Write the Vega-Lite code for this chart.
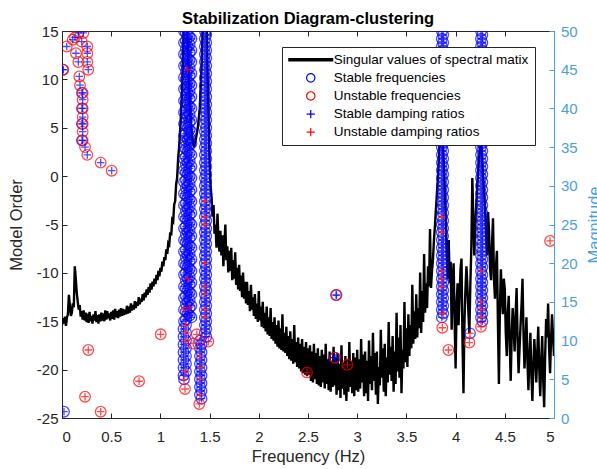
{
"$schema":"https://vega.github.io/schema/vega-lite/v6.json",
"width":492,"height":387,
"autosize":{"type":"none"},
"padding":{"left":62,"top":31,"right":43,"bottom":51},
"background":"white",
"title":{"text":"Stabilization Diagram-clustering","font":"Liberation Sans","fontSize":16.5,"fontWeight":"bold","color":"black","anchor":"middle","offset":-3},
"config":{
 "view":{"stroke":null},
 "axis":{"labelFont":"Liberation Sans","labelFontSize":15,"labelColor":"#262626","titleFont":"Liberation Sans","titleFontSize":16.5,"titleFontWeight":"normal","titleColor":"#262626","domainColor":"#262626","tickColor":"#262626","grid":false,"tickSize":-5,"labelPadding":9,"domainWidth":1,"tickWidth":1},
 "legend":{"fillColor":"white","strokeColor":"#262626","padding":6,"rowPadding":3.1,"labelFont":"Liberation Sans","labelFontSize":13.5,"labelColor":"black","symbolOffset":16,"labelOffset":16.3,"labelLimit":0}
},
"datasets":{
"spec":[{"f":0,"m":12},{"f":0.01,"m":12.9},{"f":0.02,"m":12.2},{"f":0.03,"m":13.1},{"f":0.04,"m":11.9},{"f":0.05,"m":13},{"f":0.06,"m":13.4},{"f":0.07,"m":15.9},{"f":0.08,"m":14.6},{"f":0.09,"m":13.2},{"f":0.1,"m":13.6},{"f":0.11,"m":14.8},{"f":0.12,"m":14.3},{"f":0.13,"m":19.6},{"f":0.14,"m":18},{"f":0.15,"m":16.2},{"f":0.16,"m":15},{"f":0.17,"m":14},{"f":0.18,"m":14.6},{"f":0.19,"m":13.1},{"f":0.2,"m":13.8},{"f":0.21,"m":12.7},{"f":0.22,"m":13.9},{"f":0.23,"m":12.6},{"f":0.24,"m":13.6},{"f":0.25,"m":12.4},{"f":0.26,"m":13.5},{"f":0.27,"m":12.3},{"f":0.28,"m":13.7},{"f":0.29,"m":12.5},{"f":0.3,"m":13.2},{"f":0.31,"m":12.2},{"f":0.32,"m":13.4},{"f":0.33,"m":12.6},{"f":0.34,"m":13.8},{"f":0.35,"m":12.4},{"f":0.36,"m":13.3},{"f":0.37,"m":12.2},{"f":0.38,"m":13.4},{"f":0.39,"m":12.5},{"f":0.4,"m":13.6},{"f":0.41,"m":12.6},{"f":0.42,"m":13.5},{"f":0.43,"m":12.5},{"f":0.44,"m":13.9},{"f":0.45,"m":12.7},{"f":0.46,"m":13.8},{"f":0.47,"m":12.9},{"f":0.48,"m":13.5},{"f":0.49,"m":12.6},{"f":0.5,"m":13.7},{"f":0.51,"m":12.8},{"f":0.52,"m":13.9},{"f":0.53,"m":12.7},{"f":0.54,"m":14.1},{"f":0.55,"m":13},{"f":0.56,"m":13.8},{"f":0.57,"m":12.9},{"f":0.58,"m":14},{"f":0.59,"m":13.1},{"f":0.6,"m":14.2},{"f":0.61,"m":13.2},{"f":0.62,"m":14.1},{"f":0.63,"m":13.3},{"f":0.64,"m":14},{"f":0.65,"m":13.4},{"f":0.66,"m":14.5},{"f":0.67,"m":13.5},{"f":0.68,"m":14.4},{"f":0.69,"m":13.6},{"f":0.7,"m":14.8},{"f":0.71,"m":13.9},{"f":0.72,"m":14.6},{"f":0.73,"m":14},{"f":0.74,"m":15.1},{"f":0.75,"m":14.2},{"f":0.76,"m":15},{"f":0.77,"m":14.5},{"f":0.78,"m":15.6},{"f":0.79,"m":14.7},{"f":0.8,"m":15.4},{"f":0.81,"m":15},{"f":0.82,"m":16},{"f":0.83,"m":15.2},{"f":0.84,"m":16.2},{"f":0.85,"m":15.6},{"f":0.86,"m":16.6},{"f":0.87,"m":15.9},{"f":0.88,"m":16.9},{"f":0.89,"m":16.2},{"f":0.9,"m":17.4},{"f":0.91,"m":16.6},{"f":0.92,"m":17.6},{"f":0.93,"m":17},{"f":0.94,"m":18},{"f":0.95,"m":17.3},{"f":0.96,"m":18.5},{"f":0.97,"m":17.8},{"f":0.98,"m":19},{"f":0.99,"m":18.3},{"f":1,"m":19.4},{"f":1.01,"m":18.9},{"f":1.02,"m":20.2},{"f":1.03,"m":19.6},{"f":1.04,"m":20.8},{"f":1.05,"m":20.4},{"f":1.06,"m":21.8},{"f":1.07,"m":21.2},{"f":1.08,"m":22.6},{"f":1.09,"m":22.4},{"f":1.1,"m":24},{"f":1.11,"m":23.6},{"f":1.12,"m":25.6},{"f":1.13,"m":25.4},{"f":1.14,"m":27.6},{"f":1.15,"m":28},{"f":1.16,"m":30.2},{"f":1.17,"m":31},{"f":1.18,"m":33.5},{"f":1.19,"m":35},{"f":1.2,"m":37},{"f":1.22,"m":42},{"f":1.24,"m":52},{"f":1.26,"m":55},{"f":1.28,"m":47},{"f":1.3,"m":40},{"f":1.32,"m":36.5},{"f":1.34,"m":35},{"f":1.36,"m":36},{"f":1.38,"m":37.5},{"f":1.4,"m":40},{"f":1.42,"m":46},{"f":1.44,"m":54},{"f":1.46,"m":58},{"f":1.48,"m":44},{"f":1.5,"m":33},{"f":1.51,"m":30},{"f":1.52,"m":28.5},{"f":1.53,"m":26},{"f":1.54,"m":27.5},{"f":1.55,"m":23.8},{"f":1.56,"m":25},{"f":1.57,"m":22},{"f":1.58,"m":26.4},{"f":1.59,"m":23},{"f":1.6,"m":21.5},{"f":1.61,"m":24.2},{"f":1.62,"m":21},{"f":1.63,"m":23.6},{"f":1.64,"m":19.6},{"f":1.65,"m":22.4},{"f":1.66,"m":25},{"f":1.67,"m":20.4},{"f":1.68,"m":22.2},{"f":1.69,"m":18.8},{"f":1.7,"m":21.6},{"f":1.71,"m":19},{"f":1.72,"m":22},{"f":1.73,"m":17.8},{"f":1.74,"m":20.4},{"f":1.75,"m":18},{"f":1.76,"m":21.4},{"f":1.77,"m":17.2},{"f":1.78,"m":19.4},{"f":1.79,"m":16.6},{"f":1.8,"m":19.8},{"f":1.81,"m":16.4},{"f":1.82,"m":18.4},{"f":1.83,"m":15.6},{"f":1.84,"m":18.8},{"f":1.85,"m":15.4},{"f":1.86,"m":17.6},{"f":1.87,"m":14.8},{"f":1.88,"m":17.6},{"f":1.89,"m":14.6},{"f":1.9,"m":16.4},{"f":1.91,"m":13.8},{"f":1.92,"m":17.2},{"f":1.93,"m":14},{"f":1.94,"m":15.6},{"f":1.95,"m":13.2},{"f":1.96,"m":16},{"f":1.97,"m":12.8},{"f":1.98,"m":14.8},{"f":1.99,"m":12.4},{"f":2,"m":16.4},{"f":2.01,"m":12.6},{"f":2.02,"m":14.4},{"f":2.03,"m":11.8},{"f":2.04,"m":15},{"f":2.05,"m":11.6},{"f":2.06,"m":13.6},{"f":2.07,"m":11.2},{"f":2.08,"m":14.4},{"f":2.09,"m":10.8},{"f":2.1,"m":13},{"f":2.11,"m":10.6},{"f":2.12,"m":14.2},{"f":2.13,"m":10.2},{"f":2.14,"m":12.4},{"f":2.15,"m":10},{"f":2.16,"m":13},{"f":2.17,"m":9.6},{"f":2.18,"m":12},{"f":2.19,"m":9.2},{"f":2.2,"m":12.6},{"f":2.21,"m":9},{"f":2.22,"m":11.6},{"f":2.23,"m":8.8},{"f":2.24,"m":13.4},{"f":2.25,"m":8.6},{"f":2.26,"m":11},{"f":2.27,"m":8.4},{"f":2.28,"m":11.8},{"f":2.29,"m":8},{"f":2.3,"m":10.6},{"f":2.31,"m":7.6},{"f":2.32,"m":11.2},{"f":2.33,"m":7.4},{"f":2.34,"m":10.2},{"f":2.35,"m":7},{"f":2.36,"m":12},{"f":2.37,"m":7.2},{"f":2.38,"m":9.8},{"f":2.39,"m":6.6},{"f":2.4,"m":10.4},{"f":2.41,"m":6.4},{"f":2.42,"m":9.6},{"f":2.43,"m":6},{"f":2.44,"m":10.2},{"f":2.45,"m":5.8},{"f":2.46,"m":9.2},{"f":2.47,"m":5.6},{"f":2.48,"m":9.8},{"f":2.49,"m":5.4},{"f":2.5,"m":9},{"f":2.51,"m":5.6},{"f":2.52,"m":9.4},{"f":2.53,"m":4.8},{"f":2.54,"m":8.6},{"f":2.55,"m":4.6},{"f":2.56,"m":9.6},{"f":2.57,"m":5},{"f":2.58,"m":8.4},{"f":2.59,"m":4.4},{"f":2.6,"m":9},{"f":2.61,"m":4.2},{"f":2.62,"m":8},{"f":2.63,"m":4},{"f":2.64,"m":8.8},{"f":2.65,"m":4.6},{"f":2.66,"m":8.2},{"f":2.67,"m":3.8},{"f":2.68,"m":9.6},{"f":2.69,"m":4.4},{"f":2.7,"m":7.6},{"f":2.71,"m":3.6},{"f":2.72,"m":8.6},{"f":2.73,"m":3.4},{"f":2.74,"m":7.4},{"f":2.75,"m":4},{"f":2.76,"m":9.2},{"f":2.77,"m":4.2},{"f":2.78,"m":7.8},{"f":2.79,"m":3},{"f":2.8,"m":8.4},{"f":2.81,"m":3.6},{"f":2.82,"m":7},{"f":2.83,"m":2.6},{"f":2.84,"m":9.4},{"f":2.85,"m":3.8},{"f":2.86,"m":7.2},{"f":2.87,"m":3},{"f":2.88,"m":8},{"f":2.89,"m":2.2},{"f":2.9,"m":7.6},{"f":2.91,"m":3.4},{"f":2.92,"m":9.8},{"f":2.93,"m":4},{"f":2.94,"m":7.4},{"f":2.95,"m":3.2},{"f":2.96,"m":8.4},{"f":2.97,"m":2.8},{"f":2.98,"m":7.8},{"f":2.99,"m":3.6},{"f":3,"m":8.8},{"f":3.01,"m":3.4},{"f":3.02,"m":7.6},{"f":3.03,"m":3.8},{"f":3.04,"m":10.2},{"f":3.05,"m":4.6},{"f":3.06,"m":8.2},{"f":3.07,"m":2.8},{"f":3.08,"m":8.6},{"f":3.09,"m":3.2},{"f":3.1,"m":7.4},{"f":3.11,"m":2.2},{"f":3.12,"m":10},{"f":3.13,"m":4.4},{"f":3.14,"m":8},{"f":3.15,"m":3.6},{"f":3.16,"m":11},{"f":3.17,"m":4.8},{"f":3.18,"m":8.4},{"f":3.19,"m":3},{"f":3.2,"m":8.6},{"f":3.21,"m":1.8},{"f":3.22,"m":6.6},{"f":3.23,"m":4.2},{"f":3.24,"m":11.4},{"f":3.25,"m":5.2},{"f":3.26,"m":9},{"f":3.27,"m":3.4},{"f":3.28,"m":9.6},{"f":3.29,"m":2.8},{"f":3.3,"m":7.8},{"f":3.31,"m":4.6},{"f":3.32,"m":12.4},{"f":3.33,"m":5.6},{"f":3.34,"m":9.2},{"f":3.35,"m":4.8},{"f":3.36,"m":10.6},{"f":3.37,"m":3.4},{"f":3.38,"m":8.6},{"f":3.39,"m":4.4},{"f":3.4,"m":13.6},{"f":3.41,"m":6},{"f":3.42,"m":10.4},{"f":3.43,"m":5.2},{"f":3.44,"m":12},{"f":3.45,"m":3.2},{"f":3.46,"m":8.8},{"f":3.47,"m":6.4},{"f":3.48,"m":15},{"f":3.49,"m":7.2},{"f":3.5,"m":11.6},{"f":3.51,"m":6.6},{"f":3.52,"m":13.4},{"f":3.53,"m":8},{"f":3.54,"m":12},{"f":3.55,"m":9},{"f":3.56,"m":17.2},{"f":3.57,"m":9.6},{"f":3.58,"m":13.8},{"f":3.59,"m":10.2},{"f":3.6,"m":16},{"f":3.61,"m":10.4},{"f":3.62,"m":14.2},{"f":3.63,"m":11.6},{"f":3.64,"m":18.8},{"f":3.65,"m":11},{"f":3.66,"m":16.4},{"f":3.67,"m":12.4},{"f":3.68,"m":21.2},{"f":3.69,"m":13.6},{"f":3.7,"m":17.4},{"f":3.71,"m":14.2},{"f":3.72,"m":19.6},{"f":3.73,"m":17},{"f":3.74,"m":24.4},{"f":3.75,"m":16.8},{"f":3.76,"m":19},{"f":3.77,"m":20.4},{"f":3.78,"m":23},{"f":3.79,"m":24.8},{"f":3.8,"m":27},{"f":3.82,"m":31},{"f":3.84,"m":36},{"f":3.86,"m":38},{"f":3.88,"m":33},{"f":3.9,"m":26},{"f":3.91,"m":21},{"f":3.92,"m":18},{"f":3.93,"m":23},{"f":3.94,"m":17.4},{"f":3.95,"m":20.2},{"f":3.96,"m":11.4},{"f":3.97,"m":17.6},{"f":3.98,"m":20},{"f":3.99,"m":12.6},{"f":4,"m":6.4},{"f":4.01,"m":14.6},{"f":4.02,"m":17.4},{"f":4.03,"m":12},{"f":4.04,"m":15.6},{"f":4.05,"m":19.2},{"f":4.06,"m":20.6},{"f":4.07,"m":10},{"f":4.08,"m":3.2},{"f":4.09,"m":12.4},{"f":4.1,"m":16.6},{"f":4.11,"m":19.6},{"f":4.12,"m":17},{"f":4.13,"m":13.6},{"f":4.14,"m":11},{"f":4.15,"m":17.4},{"f":4.16,"m":22},{"f":4.17,"m":31},{"f":4.18,"m":26},{"f":4.19,"m":21},{"f":4.2,"m":25},{"f":4.22,"m":30},{"f":4.24,"m":34},{"f":4.26,"m":36},{"f":4.28,"m":31},{"f":4.3,"m":27},{"f":4.31,"m":23.6},{"f":4.32,"m":21},{"f":4.33,"m":26.6},{"f":4.34,"m":24},{"f":4.35,"m":19.4},{"f":4.36,"m":17.8},{"f":4.37,"m":22.4},{"f":4.38,"m":25.8},{"f":4.39,"m":18},{"f":4.4,"m":15.4},{"f":4.41,"m":19.6},{"f":4.42,"m":21.6},{"f":4.43,"m":12.4},{"f":4.44,"m":4.4},{"f":4.45,"m":14},{"f":4.46,"m":19.2},{"f":4.47,"m":16},{"f":4.48,"m":13.4},{"f":4.49,"m":18},{"f":4.5,"m":16.6},{"f":4.51,"m":11},{"f":4.52,"m":8},{"f":4.53,"m":13.6},{"f":4.54,"m":15.8},{"f":4.55,"m":9.4},{"f":4.56,"m":4.8},{"f":4.57,"m":10.6},{"f":4.58,"m":14.2},{"f":4.59,"m":11.6},{"f":4.6,"m":8.6},{"f":4.61,"m":13.4},{"f":4.62,"m":16.8},{"f":4.63,"m":10.2},{"f":4.64,"m":5.8},{"f":4.65,"m":9},{"f":4.66,"m":12},{"f":4.67,"m":14.6},{"f":4.68,"m":18},{"f":4.69,"m":11},{"f":4.7,"m":6.4},{"f":4.71,"m":9.6},{"f":4.72,"m":13},{"f":4.73,"m":7.4},{"f":4.74,"m":3.6},{"f":4.75,"m":8},{"f":4.76,"m":11},{"f":4.77,"m":5.6},{"f":4.78,"m":2.2},{"f":4.79,"m":6.6},{"f":4.8,"m":10.2},{"f":4.81,"m":7.8},{"f":4.82,"m":4.6},{"f":4.83,"m":8.4},{"f":4.84,"m":11.8},{"f":4.85,"m":6.4},{"f":4.86,"m":2.8},{"f":4.87,"m":7.2},{"f":4.88,"m":10.6},{"f":4.89,"m":5},{"f":4.9,"m":1.4},{"f":4.91,"m":8},{"f":4.92,"m":12.8},{"f":4.93,"m":10.4},{"f":4.94,"m":14.8},{"f":4.95,"m":9},{"f":4.96,"m":5.8},{"f":4.97,"m":10.2},{"f":4.98,"m":13.4},{"f":4.99,"m":10.6},{"f":5,"m":8}],
"pts":[
{"f":0.02,"o":-24.35,"a":"os","b":"ps"},{"f":0.008,"o":11,"a":"os","b":"ps"},{"f":0.203,"o":8.6,"a":"os","b":"ps"},{"f":0.203,"o":7,"a":"os","b":"ps"},{"f":0.203,"o":5.4,"a":"os","b":"ps"},{"f":0.203,"o":3.7,"a":"os","b":"ps"},{"f":2.785,"o":-12.29,"a":"os","b":"ps"},{"f":2.77,"o":-18.77,"a":"os","b":"ps"},{"f":4.146,"o":-16.25,"a":"os","b":"pu"},
{"f":1.24,"o":15,"a":"os","b":"ps"},{"f":1.278,"o":14.6,"a":"os","b":"ps"},{"f":1.315,"o":14.2,"a":"os","b":"ps"},{"f":1.24,"o":13.8,"a":"os","b":"ps"},{"f":1.278,"o":13.4,"a":"os","b":"ps"},{"f":1.315,"o":13,"a":"os","b":"ps"},{"f":1.24,"o":12.6,"a":"os","b":"ps"},{"f":1.278,"o":12.2,"a":"os","b":"ps"},{"f":1.315,"o":11.8,"a":"os","b":"ps"},{"f":1.24,"o":11.4,"a":"os","b":"ps"},{"f":1.278,"o":11,"a":"os","b":"pu"},{"f":1.315,"o":10.6,"a":"os","b":"ps"},{"f":1.24,"o":10.2,"a":"os","b":"ps"},{"f":1.278,"o":9.8,"a":"os","b":"ps"},{"f":1.315,"o":9.4,"a":"os","b":"ps"},{"f":1.24,"o":9,"a":"os","b":"ps"},{"f":1.278,"o":8.6,"a":"os","b":"ps"},{"f":1.315,"o":8.2,"a":"os","b":"ps"},{"f":1.24,"o":7.8,"a":"os","b":"ps"},{"f":1.278,"o":7.4,"a":"os","b":"ps"},{"f":1.315,"o":7,"a":"os","b":"ps"},{"f":1.24,"o":6.6,"a":"os","b":"ps"},{"f":1.278,"o":6.2,"a":"os","b":"ps"},{"f":1.315,"o":5.8,"a":"os","b":"ps"},{"f":1.24,"o":5.4,"a":"os","b":"ps"},{"f":1.278,"o":5,"a":"os","b":"ps"},{"f":1.315,"o":4.6,"a":"os","b":"ps"},{"f":1.24,"o":4.2,"a":"os","b":"ps"},{"f":1.278,"o":3.8,"a":"os","b":"ps"},{"f":1.315,"o":3.4,"a":"os","b":"ps"},{"f":1.24,"o":3,"a":"os","b":"ps"},{"f":1.278,"o":2.6,"a":"os","b":"ps"},{"f":1.315,"o":2.2,"a":"os","b":"ps"},{"f":1.24,"o":1.8,"a":"os","b":"ps"},{"f":1.278,"o":1.4,"a":"os","b":"ps"},{"f":1.315,"o":1,"a":"os","b":"ps"},{"f":1.24,"o":0.6,"a":"os","b":"ps"},{"f":1.278,"o":0.2,"a":"os","b":"ps"},{"f":1.315,"o":-0.2,"a":"os","b":"ps"},{"f":1.24,"o":-0.6,"a":"os","b":"ps"},{"f":1.278,"o":-1,"a":"os","b":"ps"},{"f":1.315,"o":-1.4,"a":"os","b":"ps"},{"f":1.24,"o":-1.8,"a":"os","b":"ps"},{"f":1.278,"o":-2.2,"a":"os","b":"ps"},{"f":1.315,"o":-2.6,"a":"os","b":"ps"},{"f":1.24,"o":-3,"a":"os","b":"ps"},{"f":1.278,"o":-3.4,"a":"os","b":"ps"},{"f":1.315,"o":-3.8,"a":"os","b":"ps"},{"f":1.24,"o":-4.2,"a":"os","b":"ps"},{"f":1.278,"o":-4.6,"a":"os","b":"ps"},{"f":1.315,"o":-5,"a":"os","b":"ps"},{"f":1.24,"o":-5.4,"a":"os","b":"ps"},{"f":1.278,"o":-5.8,"a":"os","b":"ps"},{"f":1.315,"o":-6.2,"a":"os","b":"ps"},{"f":1.24,"o":-6.6,"a":"os","b":"ps"},{"f":1.278,"o":-7,"a":"os","b":"ps"},{"f":1.315,"o":-7.4,"a":"os","b":"ps"},{"f":1.24,"o":-7.8,"a":"os","b":"ps"},{"f":1.278,"o":-8.2,"a":"os","b":"ps"},{"f":1.315,"o":-8.6,"a":"os","b":"ps"},{"f":1.24,"o":-9,"a":"os","b":"ps"},{"f":1.278,"o":-9.4,"a":"os","b":"ps"},{"f":1.315,"o":-9.8,"a":"os","b":"ps"},{"f":1.24,"o":-10.2,"a":"os","b":"ps"},{"f":1.278,"o":-10.6,"a":"os","b":"pu"},{"f":1.315,"o":-11,"a":"os","b":"ps"},{"f":1.24,"o":-11.4,"a":"os","b":"ps"},{"f":1.278,"o":-11.8,"a":"os","b":"ps"},{"f":1.315,"o":-12.2,"a":"os","b":"ps"},{"f":1.24,"o":-12.6,"a":"os","b":"ps"},{"f":1.278,"o":-13,"a":"os","b":"ps"},{"f":1.315,"o":-13.4,"a":"os","b":"ps"},{"f":1.24,"o":-13.8,"a":"os","b":"pu"},{"f":1.278,"o":-14.2,"a":"os","b":"ps"},{"f":1.315,"o":-14.6,"a":"os","b":"ps"},{"f":1.24,"o":-15,"a":"os","b":"ps"},{"f":1.26,"o":-15.4,"a":"os","b":"pu"},{"f":1.235,"o":-15.8,"a":"os","b":"ps"},{"f":1.26,"o":-16.2,"a":"os","b":"pu"},{"f":1.235,"o":-16.6,"a":"os","b":"ps"},{"f":1.26,"o":-17,"a":"os","b":"pu"},{"f":1.235,"o":-17.4,"a":"os","b":"ps"},{"f":1.26,"o":-17.8,"a":"os","b":"ps"},{"f":1.235,"o":-18.2,"a":"os","b":"ps"},{"f":1.26,"o":-18.6,"a":"os","b":"ps"},{"f":1.235,"o":-19,"a":"os","b":"ps"},{"f":1.26,"o":-19.4,"a":"os","b":"ps"},{"f":1.235,"o":-19.8,"a":"os","b":"ps"},{"f":1.26,"o":-20.2,"a":"os","b":"pu"},{"f":1.235,"o":-20.6,"a":"os","b":"ps"},{"f":1.24,"o":-21,"a":"os","b":"pu"},
{"f":1.259,"o":14.8,"a":"os","b":"ps"},{"f":1.297,"o":14.4,"a":"os","b":"ps"},{"f":1.259,"o":14,"a":"os","b":"ps"},{"f":1.297,"o":13.6,"a":"os","b":"ps"},{"f":1.259,"o":13.2,"a":"os","b":"ps"},{"f":1.297,"o":12.8,"a":"os","b":"ps"},{"f":1.259,"o":12.4,"a":"os","b":"ps"},{"f":1.297,"o":12,"a":"os","b":"ps"},{"f":1.259,"o":11.6,"a":"os","b":"ps"},{"f":1.297,"o":11.2,"a":"os","b":"ps"},{"f":1.259,"o":10.8,"a":"os","b":"ps"},{"f":1.297,"o":10.4,"a":"os","b":"ps"},{"f":1.259,"o":10,"a":"os","b":"ps"},{"f":1.297,"o":9.6,"a":"os","b":"ps"},{"f":1.259,"o":9.2,"a":"os","b":"ps"},{"f":1.297,"o":8.8,"a":"os","b":"ps"},{"f":1.259,"o":8.4,"a":"os","b":"ps"},{"f":1.297,"o":8,"a":"os","b":"ps"},{"f":1.259,"o":7.6,"a":"os","b":"ps"},{"f":1.297,"o":7.2,"a":"os","b":"ps"},{"f":1.259,"o":6.8,"a":"os","b":"ps"},{"f":1.297,"o":6.4,"a":"os","b":"ps"},{"f":1.259,"o":6,"a":"os","b":"ps"},{"f":1.297,"o":5.6,"a":"os","b":"ps"},{"f":1.259,"o":5.2,"a":"os","b":"ps"},{"f":1.297,"o":4.8,"a":"os","b":"ps"},{"f":1.259,"o":4.4,"a":"os","b":"ps"},{"f":1.297,"o":4,"a":"os","b":"ps"},{"f":1.259,"o":3.6,"a":"os","b":"ps"},{"f":1.297,"o":3.2,"a":"os","b":"ps"},{"f":1.259,"o":2.8,"a":"os","b":"ps"},{"f":1.297,"o":2.4,"a":"os","b":"ps"},{"f":1.259,"o":2,"a":"os","b":"ps"},{"f":1.297,"o":1.6,"a":"os","b":"ps"},{"f":1.259,"o":1.2,"a":"os","b":"ps"},{"f":1.297,"o":0.8,"a":"os","b":"ps"},{"f":1.259,"o":0.4,"a":"os","b":"ps"},{"f":1.297,"o":0,"a":"os","b":"ps"},{"f":1.259,"o":-0.4,"a":"os","b":"ps"},{"f":1.297,"o":-0.8,"a":"os","b":"ps"},{"f":1.259,"o":-1.2,"a":"os","b":"ps"},{"f":1.297,"o":-1.6,"a":"os","b":"ps"},{"f":1.259,"o":-2,"a":"os","b":"ps"},{"f":1.297,"o":-2.4,"a":"os","b":"ps"},{"f":1.259,"o":-2.8,"a":"os","b":"ps"},{"f":1.297,"o":-3.2,"a":"os","b":"ps"},{"f":1.259,"o":-3.6,"a":"os","b":"ps"},{"f":1.297,"o":-4,"a":"os","b":"ps"},{"f":1.259,"o":-4.4,"a":"os","b":"ps"},{"f":1.297,"o":-4.8,"a":"os","b":"ps"},{"f":1.259,"o":-5.2,"a":"os","b":"ps"},{"f":1.297,"o":-5.6,"a":"os","b":"ps"},{"f":1.259,"o":-6,"a":"os","b":"ps"},{"f":1.297,"o":-6.4,"a":"os","b":"ps"},{"f":1.259,"o":-6.8,"a":"os","b":"ps"},{"f":1.297,"o":-7.2,"a":"os","b":"ps"},{"f":1.259,"o":-7.6,"a":"os","b":"ps"},{"f":1.297,"o":-8,"a":"os","b":"ps"},{"f":1.259,"o":-8.4,"a":"os","b":"ps"},{"f":1.297,"o":-8.8,"a":"os","b":"ps"},{"f":1.259,"o":-9.2,"a":"os","b":"ps"},{"f":1.297,"o":-9.6,"a":"os","b":"ps"},{"f":1.259,"o":-10,"a":"os","b":"ps"},{"f":1.297,"o":-10.4,"a":"os","b":"ps"},{"f":1.259,"o":-10.8,"a":"os","b":"ps"},{"f":1.297,"o":-11.2,"a":"os","b":"ps"},{"f":1.259,"o":-11.6,"a":"os","b":"ps"},{"f":1.297,"o":-12,"a":"os","b":"ps"},{"f":1.259,"o":-12.4,"a":"os","b":"ps"},{"f":1.297,"o":-12.8,"a":"os","b":"ps"},{"f":1.259,"o":-13.2,"a":"os","b":"ps"},{"f":1.297,"o":-13.6,"a":"os","b":"pu"},{"f":1.259,"o":-14,"a":"os","b":"ps"},{"f":1.297,"o":-14.4,"a":"os","b":"ps"},{"f":1.259,"o":-14.8,"a":"os","b":"ps"},
{"f":1.452,"o":15,"a":"os","b":"ps"},{"f":1.466,"o":14.6,"a":"os","b":"ps"},{"f":1.452,"o":14.2,"a":"os","b":"ps"},{"f":1.466,"o":13.8,"a":"os","b":"ps"},{"f":1.452,"o":13.4,"a":"os","b":"ps"},{"f":1.466,"o":13,"a":"os","b":"ps"},{"f":1.452,"o":12.6,"a":"os","b":"ps"},{"f":1.466,"o":12.2,"a":"os","b":"ps"},{"f":1.452,"o":11.8,"a":"os","b":"ps"},{"f":1.466,"o":11.4,"a":"os","b":"ps"},{"f":1.452,"o":11,"a":"os","b":"ps"},{"f":1.466,"o":10.6,"a":"os","b":"ps"},{"f":1.452,"o":10.2,"a":"os","b":"ps"},{"f":1.466,"o":9.8,"a":"os","b":"ps"},{"f":1.452,"o":9.4,"a":"os","b":"ps"},{"f":1.466,"o":9,"a":"os","b":"ps"},{"f":1.452,"o":8.6,"a":"os","b":"ps"},{"f":1.466,"o":8.2,"a":"os","b":"ps"},{"f":1.452,"o":7.8,"a":"os","b":"ps"},{"f":1.466,"o":7.4,"a":"os","b":"ps"},{"f":1.452,"o":7,"a":"os","b":"ps"},{"f":1.466,"o":6.6,"a":"os","b":"ps"},{"f":1.452,"o":6.2,"a":"os","b":"ps"},{"f":1.466,"o":5.8,"a":"os","b":"ps"},{"f":1.452,"o":5.4,"a":"os","b":"ps"},{"f":1.466,"o":5,"a":"os","b":"ps"},{"f":1.452,"o":4.6,"a":"os","b":"ps"},{"f":1.466,"o":4.2,"a":"os","b":"ps"},{"f":1.452,"o":3.8,"a":"os","b":"ps"},{"f":1.466,"o":3.4,"a":"os","b":"ps"},{"f":1.452,"o":3,"a":"os","b":"ps"},{"f":1.466,"o":2.6,"a":"os","b":"ps"},{"f":1.452,"o":2.2,"a":"os","b":"ps"},{"f":1.466,"o":1.8,"a":"os","b":"ps"},{"f":1.452,"o":1.4,"a":"os","b":"ps"},{"f":1.466,"o":1,"a":"os","b":"ps"},{"f":1.452,"o":0.6,"a":"os","b":"ps"},{"f":1.466,"o":0.2,"a":"os","b":"ps"},{"f":1.452,"o":-0.2,"a":"os","b":"ps"},{"f":1.466,"o":-0.6,"a":"os","b":"ps"},{"f":1.452,"o":-1,"a":"os","b":"ps"},{"f":1.466,"o":-1.4,"a":"os","b":"ps"},{"f":1.452,"o":-1.8,"a":"os","b":"ps"},{"f":1.466,"o":-2.2,"a":"os","b":"ps"},{"f":1.452,"o":-2.6,"a":"os","b":"pu"},{"f":1.466,"o":-3,"a":"os","b":"ps"},{"f":1.452,"o":-3.4,"a":"os","b":"ps"},{"f":1.466,"o":-3.8,"a":"os","b":"ps"},{"f":1.452,"o":-4.2,"a":"os","b":"pu"},{"f":1.466,"o":-4.6,"a":"os","b":"ps"},{"f":1.452,"o":-5,"a":"os","b":"pu"},{"f":1.466,"o":-5.4,"a":"os","b":"ps"},{"f":1.452,"o":-5.8,"a":"os","b":"ps"},{"f":1.466,"o":-6.2,"a":"os","b":"ps"},{"f":1.452,"o":-6.6,"a":"os","b":"ps"},{"f":1.466,"o":-7,"a":"os","b":"ps"},{"f":1.452,"o":-7.4,"a":"os","b":"ps"},{"f":1.466,"o":-7.8,"a":"os","b":"ps"},{"f":1.452,"o":-8.2,"a":"os","b":"ps"},{"f":1.466,"o":-8.6,"a":"os","b":"ps"},{"f":1.452,"o":-9,"a":"os","b":"pu"},{"f":1.466,"o":-9.4,"a":"os","b":"ps"},{"f":1.452,"o":-9.8,"a":"os","b":"ps"},{"f":1.466,"o":-10.2,"a":"os","b":"ps"},{"f":1.452,"o":-10.6,"a":"os","b":"ps"},{"f":1.466,"o":-11,"a":"os","b":"ps"},{"f":1.452,"o":-11.4,"a":"os","b":"pu"},{"f":1.466,"o":-11.8,"a":"os","b":"ps"},{"f":1.452,"o":-12.2,"a":"os","b":"pu"},{"f":1.466,"o":-12.6,"a":"os","b":"ps"},{"f":1.452,"o":-13,"a":"os","b":"ps"},{"f":1.466,"o":-13.4,"a":"os","b":"ps"},{"f":1.452,"o":-13.8,"a":"os","b":"pu"},{"f":1.466,"o":-14.2,"a":"os","b":"ps"},{"f":1.452,"o":-14.6,"a":"os","b":"pu"},{"f":1.466,"o":-15,"a":"os","b":"ps"},{"f":1.452,"o":-15.4,"a":"os","b":"ps"},{"f":1.466,"o":-15.8,"a":"os","b":"ps"},{"f":1.452,"o":-16.2,"a":"os","b":"ps"},{"f":1.466,"o":-16.6,"a":"os","b":"ps"},
{"f":1.402,"o":-17,"a":"os","b":"ps"},{"f":1.418,"o":-17.4,"a":"os","b":"ps"},{"f":1.402,"o":-17.8,"a":"os","b":"ps"},{"f":1.418,"o":-18.2,"a":"os","b":"ps"},{"f":1.402,"o":-18.6,"a":"os","b":"pu"},{"f":1.418,"o":-19,"a":"os","b":"ps"},{"f":1.402,"o":-19.4,"a":"os","b":"ps"},{"f":1.418,"o":-19.8,"a":"os","b":"pu"},{"f":1.402,"o":-20.2,"a":"os","b":"ps"},{"f":1.418,"o":-20.6,"a":"os","b":"ps"},{"f":1.402,"o":-21,"a":"os","b":"pu"},{"f":1.418,"o":-21.4,"a":"os","b":"ps"},{"f":1.402,"o":-21.8,"a":"os","b":"ps"},{"f":1.418,"o":-22.2,"a":"os","b":"ps"},{"f":1.402,"o":-22.6,"a":"os","b":"pu"},{"f":1.418,"o":-23,"a":"os","b":"ps"},
{"f":3.86,"o":15,"a":"os","b":"ps"},{"f":3.874,"o":14.6,"a":"os","b":"ps"},{"f":3.86,"o":14.2,"a":"os","b":"ps"},{"f":3.874,"o":13.8,"a":"os","b":"ps"},{"f":3.86,"o":13.4,"a":"os","b":"ps"},{"f":3.874,"o":13,"a":"os","b":"ps"},{"f":3.86,"o":12.6,"a":"os","b":"ps"},{"f":3.874,"o":12.2,"a":"os","b":"ps"},{"f":3.86,"o":11.8,"a":"os","b":"ps"},{"f":3.874,"o":11.4,"a":"os","b":"ps"},{"f":3.86,"o":11,"a":"os","b":"ps"},{"f":3.874,"o":10.6,"a":"os","b":"ps"},{"f":3.86,"o":10.2,"a":"os","b":"ps"},{"f":3.874,"o":9.8,"a":"os","b":"ps"},{"f":3.86,"o":9.4,"a":"os","b":"ps"},{"f":3.874,"o":9,"a":"os","b":"ps"},{"f":3.86,"o":8.6,"a":"os","b":"ps"},{"f":3.874,"o":8.2,"a":"os","b":"ps"},{"f":3.86,"o":7.8,"a":"os","b":"ps"},{"f":3.874,"o":7.4,"a":"os","b":"ps"},{"f":3.86,"o":7,"a":"os","b":"ps"},{"f":3.874,"o":6.6,"a":"os","b":"ps"},{"f":3.86,"o":6.2,"a":"os","b":"ps"},{"f":3.874,"o":5.8,"a":"os","b":"ps"},{"f":3.86,"o":5.4,"a":"os","b":"ps"},{"f":3.874,"o":5,"a":"os","b":"ps"},{"f":3.86,"o":4.6,"a":"os","b":"ps"},{"f":3.874,"o":4.2,"a":"os","b":"ps"},{"f":3.86,"o":3.8,"a":"os","b":"ps"},{"f":3.874,"o":3.4,"a":"os","b":"ps"},{"f":3.86,"o":3,"a":"os","b":"ps"},{"f":3.874,"o":2.6,"a":"os","b":"ps"},{"f":3.86,"o":2.2,"a":"os","b":"ps"},{"f":3.874,"o":1.8,"a":"os","b":"ps"},{"f":3.86,"o":1.4,"a":"os","b":"ps"},{"f":3.874,"o":1,"a":"os","b":"ps"},{"f":3.86,"o":0.6,"a":"os","b":"ps"},{"f":3.874,"o":0.2,"a":"os","b":"ps"},{"f":3.86,"o":-0.2,"a":"os","b":"ps"},{"f":3.874,"o":-0.6,"a":"os","b":"ps"},{"f":3.86,"o":-1,"a":"os","b":"ps"},{"f":3.874,"o":-1.4,"a":"os","b":"ps"},{"f":3.86,"o":-1.8,"a":"os","b":"ps"},{"f":3.874,"o":-2.2,"a":"os","b":"ps"},{"f":3.86,"o":-2.6,"a":"os","b":"ps"},{"f":3.874,"o":-3,"a":"os","b":"ps"},{"f":3.86,"o":-3.4,"a":"os","b":"ps"},{"f":3.874,"o":-3.8,"a":"os","b":"ps"},{"f":3.86,"o":-4.2,"a":"os","b":"pu"},{"f":3.874,"o":-4.6,"a":"os","b":"ps"},{"f":3.86,"o":-5,"a":"os","b":"ps"},{"f":3.874,"o":-5.4,"a":"os","b":"ps"},{"f":3.86,"o":-5.8,"a":"os","b":"pu"},{"f":3.874,"o":-6.2,"a":"os","b":"ps"},{"f":3.86,"o":-6.6,"a":"os","b":"ps"},{"f":3.874,"o":-7,"a":"os","b":"ps"},{"f":3.86,"o":-7.4,"a":"os","b":"ps"},{"f":3.874,"o":-7.8,"a":"os","b":"ps"},{"f":3.86,"o":-8.2,"a":"os","b":"ps"},{"f":3.874,"o":-8.6,"a":"os","b":"ps"},{"f":3.86,"o":-9,"a":"os","b":"ps"},{"f":3.874,"o":-9.4,"a":"os","b":"ps"},{"f":3.86,"o":-9.8,"a":"os","b":"pu"},{"f":3.874,"o":-10.2,"a":"os","b":"ps"},{"f":3.86,"o":-10.6,"a":"os","b":"pu"},{"f":3.874,"o":-11,"a":"os","b":"ps"},{"f":3.86,"o":-11.4,"a":"os","b":"pu"},{"f":3.874,"o":-11.8,"a":"os","b":"ps"},{"f":3.86,"o":-12.2,"a":"os","b":"ps"},{"f":3.874,"o":-12.6,"a":"os","b":"ps"},{"f":3.86,"o":-13,"a":"os","b":"ps"},{"f":3.874,"o":-13.4,"a":"os","b":"ps"},{"f":3.86,"o":-13.8,"a":"os","b":"ps"},{"f":3.874,"o":-14.2,"a":"os","b":"pu"},{"f":3.86,"o":-14.6,"a":"os","b":"ps"},
{"f":4.258,"o":15,"a":"os","b":"ps"},{"f":4.272,"o":14.6,"a":"os","b":"ps"},{"f":4.258,"o":14.2,"a":"os","b":"ps"},{"f":4.272,"o":13.8,"a":"os","b":"ps"},{"f":4.258,"o":13.4,"a":"os","b":"ps"},{"f":4.272,"o":13,"a":"os","b":"ps"},{"f":4.258,"o":12.6,"a":"os","b":"ps"},{"f":4.272,"o":12.2,"a":"os","b":"ps"},{"f":4.258,"o":11.8,"a":"os","b":"ps"},{"f":4.272,"o":11.4,"a":"os","b":"ps"},{"f":4.258,"o":11,"a":"os","b":"ps"},{"f":4.272,"o":10.6,"a":"os","b":"ps"},{"f":4.258,"o":10.2,"a":"os","b":"ps"},{"f":4.272,"o":9.8,"a":"os","b":"ps"},{"f":4.258,"o":9.4,"a":"os","b":"ps"},{"f":4.272,"o":9,"a":"os","b":"ps"},{"f":4.258,"o":8.6,"a":"os","b":"ps"},{"f":4.272,"o":8.2,"a":"os","b":"ps"},{"f":4.258,"o":7.8,"a":"os","b":"ps"},{"f":4.272,"o":7.4,"a":"os","b":"ps"},{"f":4.258,"o":7,"a":"os","b":"ps"},{"f":4.272,"o":6.6,"a":"os","b":"ps"},{"f":4.258,"o":6.2,"a":"os","b":"ps"},{"f":4.272,"o":5.8,"a":"os","b":"ps"},{"f":4.258,"o":5.4,"a":"os","b":"ps"},{"f":4.272,"o":5,"a":"os","b":"ps"},{"f":4.258,"o":4.6,"a":"os","b":"ps"},{"f":4.272,"o":4.2,"a":"os","b":"ps"},{"f":4.258,"o":3.8,"a":"os","b":"ps"},{"f":4.272,"o":3.4,"a":"os","b":"ps"},{"f":4.258,"o":3,"a":"os","b":"ps"},{"f":4.272,"o":2.6,"a":"os","b":"ps"},{"f":4.258,"o":2.2,"a":"os","b":"ps"},{"f":4.272,"o":1.8,"a":"os","b":"ps"},{"f":4.258,"o":1.4,"a":"os","b":"ps"},{"f":4.272,"o":1,"a":"os","b":"ps"},{"f":4.258,"o":0.6,"a":"os","b":"ps"},{"f":4.272,"o":0.2,"a":"os","b":"ps"},{"f":4.258,"o":-0.2,"a":"os","b":"ps"},{"f":4.272,"o":-0.6,"a":"os","b":"ps"},{"f":4.258,"o":-1,"a":"os","b":"ps"},{"f":4.272,"o":-1.4,"a":"os","b":"ps"},{"f":4.258,"o":-1.8,"a":"os","b":"ps"},{"f":4.272,"o":-2.2,"a":"os","b":"ps"},{"f":4.258,"o":-2.6,"a":"os","b":"ps"},{"f":4.272,"o":-3,"a":"os","b":"ps"},{"f":4.258,"o":-3.4,"a":"os","b":"ps"},{"f":4.272,"o":-3.8,"a":"os","b":"ps"},{"f":4.258,"o":-4.2,"a":"os","b":"ps"},{"f":4.272,"o":-4.6,"a":"os","b":"ps"},{"f":4.258,"o":-5,"a":"os","b":"ps"},{"f":4.272,"o":-5.4,"a":"os","b":"ps"},{"f":4.258,"o":-5.8,"a":"os","b":"ps"},{"f":4.272,"o":-6.2,"a":"os","b":"ps"},{"f":4.258,"o":-6.6,"a":"os","b":"ps"},{"f":4.272,"o":-7,"a":"os","b":"ps"},{"f":4.258,"o":-7.4,"a":"os","b":"ps"},{"f":4.272,"o":-7.8,"a":"os","b":"ps"},{"f":4.258,"o":-8.2,"a":"os","b":"ps"},{"f":4.272,"o":-8.6,"a":"os","b":"ps"},{"f":4.258,"o":-9,"a":"os","b":"ps"},{"f":4.272,"o":-9.4,"a":"os","b":"ps"},{"f":4.258,"o":-9.8,"a":"os","b":"pu"},{"f":4.272,"o":-10.2,"a":"os","b":"ps"},{"f":4.258,"o":-10.6,"a":"os","b":"ps"},{"f":4.272,"o":-11,"a":"os","b":"ps"},{"f":4.258,"o":-11.4,"a":"os","b":"ps"},{"f":4.272,"o":-11.8,"a":"os","b":"ps"},{"f":4.258,"o":-12.2,"a":"os","b":"ps"},{"f":4.272,"o":-12.6,"a":"os","b":"ps"},{"f":4.258,"o":-13,"a":"os","b":"pu"},{"f":4.272,"o":-13.4,"a":"os","b":"ps"},{"f":4.258,"o":-13.8,"a":"os","b":"pu"},{"f":4.272,"o":-14.2,"a":"os","b":"ps"},{"f":4.258,"o":-14.6,"a":"os","b":"pu"},{"f":4.272,"o":-15,"a":"os","b":"ps"},
{"f":0.013,"o":11,"a":"ou","b":"ps"},{"f":0.048,"o":13.4,"a":"ou","b":"ps"},{"f":0.109,"o":14.1,"a":"ou","b":"ps"},{"f":0.132,"o":14.35,"a":"ou","b":"ps"},{"f":0.166,"o":14.8,"a":"ou","b":"ps"},{"f":0.2,"o":13.9,"a":"ou","b":"ps"},{"f":0.217,"o":14.8,"a":"ou","b":"ps"},{"f":0.142,"o":12.7,"a":"ou","b":"ps"},{"f":0.166,"o":11.8,"a":"ou","b":"ps"},{"f":0.257,"o":13.4,"a":"ou","b":"ps"},{"f":0.257,"o":12.7,"a":"ou","b":"ps"},{"f":0.257,"o":11.8,"a":"ou","b":"ps"},{"f":0.267,"o":11,"a":"ou","b":"ps"},{"f":0.176,"o":10.3,"a":"ou","b":"ps"},{"f":0.183,"o":9.4,"a":"ou","b":"ps"},{"f":0.21,"o":8.6,"a":"ou","b":"ps"},{"f":0.21,"o":7.9,"a":"ou","b":"ps"},{"f":0.21,"o":7,"a":"ou","b":"ps"},{"f":0.21,"o":6.1,"a":"ou","b":"ps"},{"f":0.21,"o":5.4,"a":"ou","b":"ps"},{"f":0.21,"o":4.6,"a":"ou","b":"ps"},{"f":0.21,"o":3.7,"a":"ou","b":"ps"},{"f":0.234,"o":3,"a":"ou","b":"ps"},{"f":0.257,"o":2.2,"a":"ou","b":"ps"},{"f":0.393,"o":1.4,"a":"ou","b":"ps"},{"f":0.505,"o":0.56,"a":"ou","b":"ps"},
{"f":0.267,"o":-17.97,"a":"ou","b":"pu"},{"f":0.234,"o":-22.8,"a":"ou","b":"pu"},{"f":0.393,"o":-24.35,"a":"ou","b":"pu"},{"f":0.783,"o":-21.2,"a":"ou","b":"pu"},{"f":1.003,"o":-16.35,"a":"ou","b":"pu"},
{"f":1.25,"o":-22,"a":"ou","b":"pu"},{"f":1.37,"o":-16.35,"a":"ou","b":"pu"},{"f":1.335,"o":-17.3,"a":"ou","b":"pu"},{"f":1.487,"o":-17.1,"a":"ou","b":"pu"},{"f":1.395,"o":-23.55,"a":"ou","b":"pu"},
{"f":2.79,"o":-12.29,"a":"ou","b":"ps"},{"f":2.775,"o":-18.77,"a":"ou","b":"ps"},{"f":2.49,"o":-20.3,"a":"ou","b":"pu"},{"f":2.9,"o":-19.5,"a":"ou","b":"pu"},
{"f":3.865,"o":-15.67,"a":"ou","b":"pu"},{"f":3.927,"o":-17.97,"a":"ou","b":"pu"},{"f":4.258,"o":-15.57,"a":"ou","b":"pu"},{"f":4.14,"o":-17.2,"a":"ou","b":"pu"},{"f":4.96,"o":-6.7,"a":"ou","b":"pu"}
]},
"layer":[
{
 "data":{"name":"spec"},
 "mark":{"type":"line","clip":true,"strokeWidth":2.4},
 "encoding":{
  "x":{"field":"f","type":"quantitative","scale":{"domain":[0,5],"nice":false,"zero":false},
       "axis":{"orient":"bottom","title":"Frequency (Hz)","values":[0,0.5,1,1.5,2,2.5,3,3.5,4,4.5,5],"labelExpr":"'' + datum.value","labelPadding":16,"titlePadding":4}},
  "y":{"field":"m","type":"quantitative","scale":{"domain":[0,50],"nice":false,"zero":false},
       "axis":{"orient":"right","title":"Magnitude","values":[0,5,10,15,20,25,30,35,40,45,50],"labelExpr":"'' + datum.value","labelPadding":11.5,"domainColor":"#4a9fdc","tickColor":"#4a9fdc","labelColor":"#4a9fdc","titleColor":"#4a9fdc","titleAngle":270,"titleBaseline":"top","titlePadding":9.5}},
  "color":{"datum":"line","type":"nominal",
       "scale":{"domain":["line","os","ou","ps","pu"],"range":["#000000","#0000ff","#ff0000","#0000ff","#ff0000"]},
       "legend":{"title":null,"orient":"none","legendX":220,"legendY":16,"labelExpr":"datum.value == 'line' ? 'Singular values of spectral matix' : datum.value == 'os' ? 'Stable frequencies' : datum.value == 'ou' ? 'Unstable frequencies' : datum.value == 'ps' ? 'Stable damping ratios' : 'Unstable damping ratios'","symbolSize":70,"encode":{"symbols":{"update":{"size":{"signal":"datum.value == 'line' ? 2025 : (datum.value == 'ps' || datum.value == 'pu') ? 130 : 70"},"strokeWidth":{"signal":"datum.value == 'line' ? 3.3 : 1.2"},"fill":{"value":"transparent"}}}}}}
 }
},
{
 "data":{"name":"pts"},
 "transform":[{"fold":["a","b"],"as":["slot","k"]}],
 "mark":{"type":"point","filled":false,"clip":true,"size":112,"strokeWidth":1.3},
 "encoding":{
  "x":{"field":"f","type":"quantitative","axis":{"orient":"top","labels":false,"title":null,"values":[0,0.5,1,1.5,2,2.5,3,3.5,4,4.5,5]}},
  "y":{"field":"o","type":"quantitative","scale":{"domain":[-25,15],"nice":false,"zero":false},
       "axis":{"orient":"left","title":"Model Order","values":[-25,-20,-15,-10,-5,0,5,10,15],"labelExpr":"'' + datum.value","titlePadding":12}},
  "color":{"field":"k","type":"nominal",
       "scale":{"domain":["line","os","ou","ps","pu"],"range":["#000000","#0000ff","#ff0000","#0000ff","#ff0000"]},
       "legend":{"title":null,"orient":"none","legendX":220,"legendY":16,"labelExpr":"datum.value == 'line' ? 'Singular values of spectral matix' : datum.value == 'os' ? 'Stable frequencies' : datum.value == 'ou' ? 'Unstable frequencies' : datum.value == 'ps' ? 'Stable damping ratios' : 'Unstable damping ratios'","symbolSize":70,"encode":{"symbols":{"update":{"size":{"signal":"datum.value == 'line' ? 2025 : (datum.value == 'ps' || datum.value == 'pu') ? 130 : 70"},"strokeWidth":{"signal":"datum.value == 'line' ? 3.3 : 1.2"},"fill":{"value":"transparent"}}}}}},
  "shape":{"field":"k","type":"nominal",
       "scale":{"domain":["line","os","ou","ps","pu"],"range":["stroke","circle","circle","M-0.72,0H0.72M0,-0.72V0.72","M-0.72,0H0.72M0,-0.72V0.72"]},
       "legend":{"title":null,"orient":"none","legendX":220,"legendY":16,"labelExpr":"datum.value == 'line' ? 'Singular values of spectral matix' : datum.value == 'os' ? 'Stable frequencies' : datum.value == 'ou' ? 'Unstable frequencies' : datum.value == 'ps' ? 'Stable damping ratios' : 'Unstable damping ratios'","symbolSize":70,"encode":{"symbols":{"update":{"size":{"signal":"datum.value == 'line' ? 2025 : (datum.value == 'ps' || datum.value == 'pu') ? 130 : 70"},"strokeWidth":{"signal":"datum.value == 'line' ? 3.3 : 1.2"},"fill":{"value":"transparent"}}}}}},
  "order":{"field":"k","type":"ordinal"}
 }
}
],
"resolve":{"scale":{"y":"independent"}}
}
